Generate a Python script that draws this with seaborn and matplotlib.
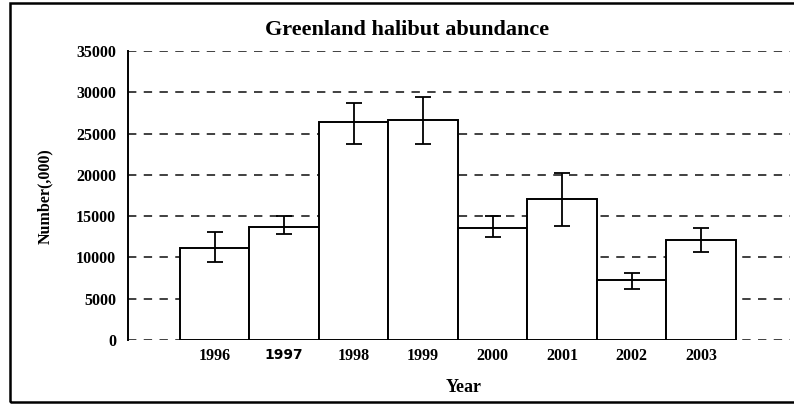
import numpy as np
import matplotlib
matplotlib.use('Agg')
import matplotlib.pyplot as plt
import matplotlib.patches as patches
import seaborn as sns
import pandas as pd

# data (numbers in thousands)
years = ['1996', '1997', '1998', '1999', '2000', '2001', '2002', '2003']
abundance = [11150, 13700, 26350, 26700, 13600, 17100, 7300, 12150]
err_low = [9400, 12800, 23750, 23750, 12450, 13750, 6200, 10700]
err_high = [13100, 15050, 28750, 29400, 15050, 20200, 8100, 13600]
y_ticks = [0, 5000, 10000, 15000, 20000, 25000, 30000, 35000]

sns.set_theme(style='white')
plt.rcParams['font.family'] = ['Liberation Serif', 'DejaVu Serif']
plt.rcParams['font.weight'] = 'bold'
plt.rcParams['text.color'] = 'black'
plt.rcParams['xtick.color'] = 'black'
plt.rcParams['ytick.color'] = 'black'

df = pd.DataFrame({'Year': years, 'Number': abundance})

fig = plt.figure(figsize=(7.94, 4.04), dpi=100)
ax = fig.add_axes([128 / 794, 1 - 340 / 404, (790 - 128) / 794, (340 - 51) / 404])

# dashed gridlines behind the bars
for t in y_ticks:
    ax.axhline(t, color='#404040', lw=1.4, ls=(0, (4.3, 3.8)), zorder=0)

sns.barplot(data=df, x='Year', y='Number', color='white', edgecolor='black',
            linewidth=1.4, width=1.0, saturation=1, errorbar=None, ax=ax, zorder=2)

lower = np.array(abundance) - np.array(err_low)
upper = np.array(err_high) - np.array(abundance)
ax.errorbar(np.arange(len(years)), abundance, yerr=[lower, upper], fmt='none',
            ecolor='black', elinewidth=1.3, capsize=5.5, capthick=1.3, zorder=3)

ax.set_xlim(-1.248, 8.277)
ax.set_ylim(0, 35000)
ax.set_yticks(y_ticks)
ax.set_yticklabels([str(t) for t in y_ticks], fontsize=11.5, fontweight='bold')
ax.set_xticks(np.arange(len(years)))
ax.set_xticklabels(years, fontsize=11.5, fontweight='bold')
# the 1997 label is set in a different (sans) face in the original
for lab in ax.get_xticklabels():
    if lab.get_text() == '1997':
        lab.set_fontfamily('DejaVu Sans')
        lab.set_fontsize(10)
ax.tick_params(axis='y', direction='inout', length=9, width=1.3, color='black', pad=4)
ax.tick_params(axis='x', length=0, pad=6)

for s in ['top', 'right', 'bottom']:
    ax.spines[s].set_visible(False)
ax.spines['left'].set_color('black')
ax.spines['left'].set_linewidth(1.4)
ax.spines['left'].set_zorder(4)

ax.set_xlabel('')
ax.set_ylabel('')
fig.text(45 / 794, 1 - 196 / 404, 'Number(,000)', rotation=90, ha='center', va='center',
         fontsize=11.5, fontweight='bold')
fig.text(464 / 794, 1 - 387 / 404, 'Year', ha='center', va='center',
         fontsize=13, fontweight='bold')
fig.text(407 / 794, 1 - 30 / 404, 'Greenland halibut abundance', ha='center', va='center',
         fontsize=16, fontweight='bold')

# outer frame around the chart area
frame = patches.Rectangle((9.5 / 794, 1 - 402 / 404), 1.0, (402 - 3) / 404,
                          transform=fig.transFigure, fill=False, edgecolor='black',
                          lw=1.8, clip_on=False)
fig.patches.append(frame)

fig.savefig('out.png', dpi=100)
